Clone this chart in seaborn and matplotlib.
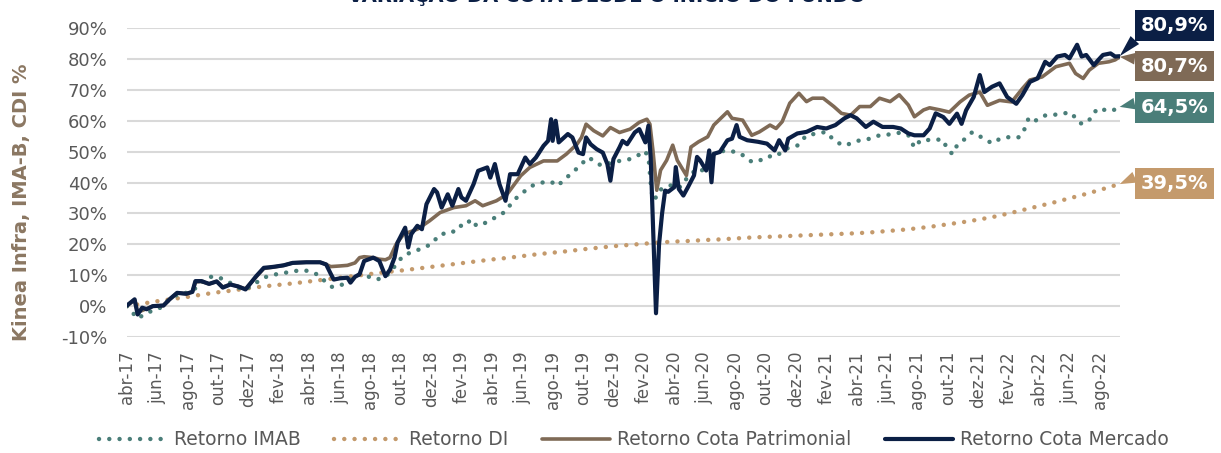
import matplotlib
matplotlib.use('Agg')
import matplotlib.pyplot as plt
from matplotlib.ticker import FuncFormatter
import pandas as pd
import seaborn as sns

titulo = 'VARIAÇÃO DA COTA DESDE O INÍCIO DO FUNDO'
eixo_y = 'Kinea Infra, IMA-B, CDI %'
rotulos_x = ['abr-17', 'jun-17', 'ago-17', 'out-17', 'dez-17', 'fev-18', 'abr-18',
             'jun-18', 'ago-18', 'out-18', 'dez-18', 'fev-19', 'abr-19', 'jun-19',
             'ago-19', 'out-19', 'dez-19', 'fev-20', 'abr-20', 'jun-20', 'ago-20',
             'out-20', 'dez-20', 'fev-21', 'abr-21', 'jun-21', 'ago-21', 'out-21',
             'dez-21', 'fev-22', 'abr-22', 'jun-22', 'ago-22']
nomes = ['Retorno IMAB', 'Retorno DI', 'Retorno Cota Patrimonial', 'Retorno Cota Mercado']
finais = ['64,5%', '39,5%', '80,7%', '80,9%']

# (meses desde abr-17, retorno %)
imab = [(0, 0.0), (0.7, -4.0), (1.3, -2.2), (2.2, -0.5), (2.8, 2.2), (3.4, 4.0), (3.9, 4.3),
        (4.6, 6.0), (5.3, 9.4), (5.9, 9.6), (6.6, 8.1), (7.3, 6.0), (7.8, 5.4), (8.5, 7.6),
        (9.1, 9.4), (9.8, 10.3), (10.4, 10.8), (11.1, 11.4), (11.7, 11.6), (12.3, 10.8),
        (12.7, 9.7), (13.1, 7.6), (13.5, 6.2), (14.0, 6.6), (14.6, 8.1), (15.1, 10.3),
        (15.8, 9.7), (16.4, 8.6), (16.9, 9.2), (17.3, 10.8), (17.7, 13.5), (18.2, 16.5),
        (19.1, 18.1), (20.0, 20.0), (20.6, 23.3), (21.4, 23.8), (21.8, 26.0), (22.3, 26.0),
        (22.6, 28.1), (23.0, 26.0), (23.6, 27.0), (24.3, 28.9), (24.9, 30.6), (25.4, 34.1),
        (25.9, 36.2), (26.6, 38.9), (27.3, 40.0), (27.9, 40.3), (28.3, 38.9), (28.7, 40.6),
        (29.3, 43.3), (29.8, 45.4), (30.3, 48.1), (30.8, 47.0), (31.2, 45.4), (31.9, 46.5),
        (32.4, 47.0), (33.1, 47.6), (33.6, 48.7), (34.0, 50.3), (34.3, 48.7), (34.5, 37.0),
        (34.7, 34.3), (35.0, 37.5), (35.5, 38.6), (36.0, 39.5), (36.4, 38.5), (36.8, 41.2),
        (37.5, 44.5), (37.9, 43.9), (38.4, 48.3), (38.8, 49.9), (39.5, 50.4), (40.0, 49.9),
        (40.4, 49.3), (40.9, 47.2), (41.2, 46.6), (41.6, 47.2), (42.1, 47.7), (42.5, 49.3),
        (43.0, 49.3), (43.4, 51.0), (44.1, 52.0), (44.7, 55.3), (45.4, 55.9), (46.0, 56.4),
        (46.5, 53.7), (47.1, 52.0), (47.6, 52.6), (48.2, 53.7), (48.9, 54.2), (49.5, 55.3),
        (50.2, 55.6), (50.8, 56.1), (51.4, 55.3), (51.8, 51.3), (52.2, 53.7), (52.6, 53.7),
        (53.0, 54.0), (53.7, 53.8), (53.9, 51.4), (54.3, 49.2), (54.6, 52.0), (55.0, 53.6),
        (55.6, 56.3), (56.2, 54.7), (56.9, 52.7), (57.4, 54.1), (57.9, 54.7), (58.4, 54.5),
        (58.7, 54.7), (59.0, 56.8), (59.3, 60.7), (59.6, 59.6), (60.1, 61.0), (60.4, 61.7),
        (61.1, 62.0), (61.6, 62.3), (62.0, 62.8), (62.4, 61.0), (62.7, 59.2), (63.0, 59.0),
        (63.5, 61.2), (63.8, 63.9), (64.2, 63.6), (64.8, 63.2), (65.3, 64.5)]

di = [(0, 0.0), (1, 0.8), (2, 1.6), (3, 2.3), (4, 3.0), (5, 3.8), (6, 4.5), (7, 5.1),
      (8, 5.8), (9, 6.4), (10, 6.9), (11, 7.4), (12, 8.0), (13, 8.6), (14, 9.2), (15, 9.8),
      (16, 10.4), (17, 11.0), (18, 11.5), (19, 12.1), (20, 12.7), (21, 13.3), (22, 13.9),
      (23, 14.5), (24, 15.1), (25, 15.6), (26, 16.2), (27, 16.8), (28, 17.3), (29, 17.8),
      (30, 18.4), (31, 18.9), (32, 19.4), (33, 19.8), (34, 20.2), (35, 20.6), (36, 20.9),
      (37, 21.1), (38, 21.4), (39, 21.6), (40, 21.9), (41, 22.2), (42, 22.4), (43, 22.6),
      (44, 22.8), (45, 23.0), (46, 23.2), (47, 23.4), (48, 23.6), (49, 23.9), (50, 24.3),
      (51, 24.7), (52, 25.2), (53, 25.8), (54, 26.5), (55, 27.2), (56, 28.0), (57, 28.9),
      (58, 30.0), (59, 31.2), (60, 32.4), (61, 33.6), (62, 34.9), (63, 36.2), (64, 37.6),
      (65, 39.1), (65.3, 39.5)]

patrimonial = [(0, 0.2), (0.5, 2.0), (0.7, -2.0), (1.3, -0.8), (1.7, 0.0), (2.4, 0.2), (2.8, 2.2),
               (3.3, 4.3), (3.9, 4.0), (4.3, 4.6), (4.5, 7.8), (4.9, 8.0), (5.4, 7.2), (5.9, 8.0),
               (6.3, 6.2), (6.8, 7.0), (7.3, 6.4), (7.8, 5.6), (8.5, 9.5), (9.0, 12.2), (9.6, 12.6),
               (10.3, 13.2), (10.9, 14.0), (11.8, 14.2), (12.7, 14.2), (13.1, 13.5), (13.4, 12.8),
               (14.0, 13.0), (14.5, 13.2), (15.0, 14.0), (15.3, 15.7), (15.6, 16.0), (16.2, 15.7),
               (16.6, 15.2), (17.0, 15.0), (17.3, 15.7), (17.7, 20.0), (18.2, 23.3), (19.1, 24.9),
               (19.9, 27.6), (20.6, 30.3), (21.5, 31.9), (22.3, 32.5), (22.9, 34.1), (23.4, 32.5),
               (24.3, 34.1), (25.0, 36.2), (25.9, 42.2), (26.5, 44.9), (27.4, 47.0), (28.3, 47.0),
               (28.9, 49.2), (29.6, 52.4), (29.9, 54.6), (30.2, 58.9), (30.7, 56.8), (31.3, 55.1),
               (31.8, 57.8), (32.4, 56.2), (33.1, 57.3), (33.7, 59.5), (34.2, 60.5), (34.4, 58.9),
               (34.6, 50.3), (34.85, 37.5), (35.1, 44.0), (35.5, 47.2), (35.9, 52.1), (36.2, 47.2),
               (36.8, 42.3), (37.1, 51.5), (37.6, 53.2), (38.2, 54.8), (38.6, 58.6), (39.5, 62.9),
               (39.8, 60.8), (40.5, 60.2), (41.1, 55.3), (41.6, 56.4), (42.3, 58.6), (42.7, 57.5),
               (43.1, 59.7), (43.6, 65.7), (44.2, 68.9), (44.7, 66.2), (45.1, 67.3), (45.8, 67.3),
               (46.5, 64.6), (47.0, 62.4), (47.6, 61.8), (48.2, 64.6), (48.9, 64.6), (49.5, 67.3),
               (50.2, 66.2), (50.8, 68.4), (51.4, 65.1), (51.8, 61.3), (52.4, 63.5), (52.8, 64.2),
               (53.5, 63.5), (54.1, 62.8), (54.8, 66.1), (55.4, 68.3), (56.1, 69.3), (56.6, 65.0),
               (57.4, 66.6), (58.2, 66.1), (58.9, 70.4), (59.4, 73.2), (60.2, 74.2), (61.1, 77.5),
               (62.0, 78.6), (62.4, 75.3), (62.9, 73.7), (63.3, 76.4), (63.9, 78.6), (64.6, 79.1),
               (65.0, 79.7), (65.3, 80.7)]

mercado = [(0, 0.2), (0.5, 2.2), (0.7, -2.7), (1.0, -0.5), (1.3, -1.0), (1.7, 0.0), (2.4, 0.2),
           (2.8, 2.2), (3.3, 4.3), (3.9, 4.0), (4.3, 4.6), (4.5, 8.1), (4.9, 8.1), (5.4, 7.2),
           (5.9, 8.0), (6.3, 6.0), (6.8, 7.0), (7.3, 6.4), (7.8, 5.4), (8.5, 9.7), (9.0, 12.4),
           (9.6, 12.7), (10.3, 13.2), (10.9, 14.0), (11.8, 14.2), (12.7, 14.2), (13.1, 13.5),
           (13.4, 10.5), (13.6, 8.6), (14.0, 9.0), (14.5, 9.2), (14.7, 7.6), (15.0, 9.5),
           (15.3, 10.3), (15.6, 14.6), (16.2, 15.7), (16.6, 14.6), (17.0, 9.7), (17.3, 11.8),
           (17.6, 15.7), (17.8, 20.6), (18.3, 25.4), (18.5, 19.0), (18.7, 23.3), (19.1, 26.0),
           (19.4, 24.9), (19.7, 33.0), (20.2, 37.9), (20.4, 36.8), (20.7, 31.9), (21.1, 36.2),
           (21.4, 32.5), (21.8, 37.9), (22.0, 35.2), (22.3, 34.1), (22.8, 39.5), (23.1, 43.8),
           (23.7, 44.9), (23.9, 41.6), (24.2, 46.0), (24.5, 39.5), (24.9, 34.1), (25.2, 42.7),
           (25.7, 42.7), (26.2, 48.1), (26.5, 46.0), (26.9, 48.1), (27.4, 51.9), (27.7, 53.5),
           (27.9, 60.5), (28.0, 53.5), (28.2, 60.0), (28.4, 53.0), (29.0, 55.7), (29.3, 54.6),
           (29.7, 49.7), (30.0, 49.2), (30.2, 54.6), (30.5, 52.4), (30.9, 50.8), (31.3, 49.7),
           (31.6, 46.0), (31.8, 40.6), (32.0, 47.6), (32.4, 51.4), (32.6, 53.5), (32.9, 52.4),
           (33.4, 56.2), (33.7, 57.3), (34.1, 53.0), (34.3, 58.4), (34.45, 48.1), (34.6, 26.5),
           (34.8, -2.3), (35.0, 20.0), (35.2, 30.0), (35.4, 37.4), (35.6, 37.0), (36.0, 38.5),
           (36.1, 45.0), (36.3, 37.9), (36.6, 35.8), (36.9, 38.5), (37.3, 42.3), (37.5, 48.3),
           (37.7, 47.2), (38.1, 43.9), (38.3, 50.4), (38.45, 40.1), (38.6, 49.3), (39.0, 49.9),
           (39.5, 53.7), (39.8, 54.2), (40.1, 58.6), (40.3, 54.8), (40.8, 53.7), (41.5, 53.2),
           (42.1, 52.6), (42.6, 50.4), (42.9, 53.7), (43.3, 50.4), (43.5, 54.2), (44.1, 55.9),
           (44.7, 56.4), (45.4, 58.0), (46.0, 57.5), (46.6, 58.6), (47.2, 60.8), (47.6, 61.8),
           (48.0, 60.8), (48.6, 58.0), (49.1, 59.7), (49.7, 58.0), (50.4, 58.0), (50.9, 57.5),
           (51.4, 55.9), (51.8, 55.3), (52.4, 55.3), (52.8, 57.5), (53.2, 62.4), (53.7, 61.2),
           (54.1, 59.0), (54.6, 62.3), (54.9, 59.0), (55.2, 63.4), (55.7, 67.7), (56.1, 74.8),
           (56.4, 69.3), (56.9, 71.0), (57.4, 72.1), (57.9, 67.7), (58.5, 65.5), (58.9, 68.3),
           (59.4, 72.6), (59.9, 73.7), (60.4, 79.1), (60.7, 78.0), (61.2, 80.8), (61.7, 81.3),
           (62.0, 80.2), (62.5, 84.6), (62.8, 80.8), (63.1, 81.3), (63.6, 78.0), (63.9, 79.7),
           (64.2, 81.3), (64.7, 81.8), (65.0, 80.8), (65.3, 80.9)]

navy = '#0B1F45'
marrom = '#7F6A56'
verde = '#4A7E79'
bege = '#C49A6C'
cinza = '#595959'

sns.set_style('white')
plt.rcParams['font.family'] = ['DejaVu Sans']

fig = plt.figure(figsize=(12.21, 4.53), dpi=100)
ax = fig.add_axes([0.104, 0.256, 0.813, 0.682])

pontos = (0, (0.01, 2.3))
series = [(di, nomes[1], bege, pontos, 3.2),
          (imab, nomes[0], verde, pontos, 3.2),
          (patrimonial, nomes[2], marrom, '-', 2.6),
          (mercado, nomes[3], navy, '-', 3.0)]
for dados, nome, cor, ls, lw in series:
    df = pd.DataFrame(dados, columns=['mes', 'retorno'])
    sns.lineplot(data=df, x='mes', y='retorno', ax=ax, color=cor, linewidth=lw,
                 linestyle=ls, dash_capstyle='round', solid_capstyle='round',
                 estimator=None, sort=False, label=nome)

ultimo = mercado[-1][0]
ax.set_xlim(0, ultimo)
ax.set_ylim(-10, 90)
ax.set_yticks(range(-10, 91, 10))
ax.yaxis.set_major_formatter(FuncFormatter(lambda v, p: f'{v:.0f}%'))
ax.set_xticks(range(0, 2 * len(rotulos_x), 2))
ax.set_xticklabels(rotulos_x, rotation=90)
ax.tick_params(axis='y', length=0, pad=14, labelsize=13, labelcolor=cinza)
ax.tick_params(axis='x', length=0, pad=10, labelsize=12, labelcolor=cinza)
ax.grid(axis='y', color='#D9D9D9', linewidth=1.5)
ax.set_axisbelow(True)
sns.despine(ax=ax, left=True, bottom=True)
ax.set_xlabel('')
ax.set_ylabel('')

fig.text(0.018, 0.553, eixo_y, rotation=90, ha='center', va='center',
         fontsize=14, fontweight='bold', color='#8B7762')
# titulo cortado no topo, como no original
fig.text(0.497, 0.996, titulo, ha='center', va='baseline', fontsize=14,
         fontweight='bold', color=navy)

# caixas com o valor final
caixas = [(mercado[-1][1], finais[3], navy, 90.9, (0, 0.05)),
          (patrimonial[-1][1], finais[2], marrom, 77.7, (0, 0.85)),
          (imab[-1][1], finais[0], verde, 64.4, (0, 0.75)),
          (di[-1][1], finais[1], bege, 39.8, (0, 0.95))]
for yv, txt, cor, ty, rp in caixas:
    ax.annotate(txt, xy=(ultimo, yv), xytext=(68.9, ty), textcoords='data',
                ha='center', va='center', fontsize=14, fontweight='bold', color='white',
                bbox=dict(boxstyle='square,pad=0.3', fc=cor, ec='none'),
                arrowprops=dict(arrowstyle='wedge,tail_width=0.6', fc=cor, ec='none',
                                relpos=rp, shrinkA=0, shrinkB=0),
                annotation_clip=False)

handles, labels = ax.get_legend_handles_labels()
ordem = [labels.index(n) for n in nomes]
ax.get_legend().remove()
fig.legend([handles[i] for i in ordem], nomes, loc='center', bbox_to_anchor=(0.519, 0.029),
           ncol=4, frameon=False, fontsize=13.5, labelcolor=cinza, handlelength=3.6,
           handletextpad=0.4, columnspacing=1.8)

fig.savefig('out.png', dpi=100)
